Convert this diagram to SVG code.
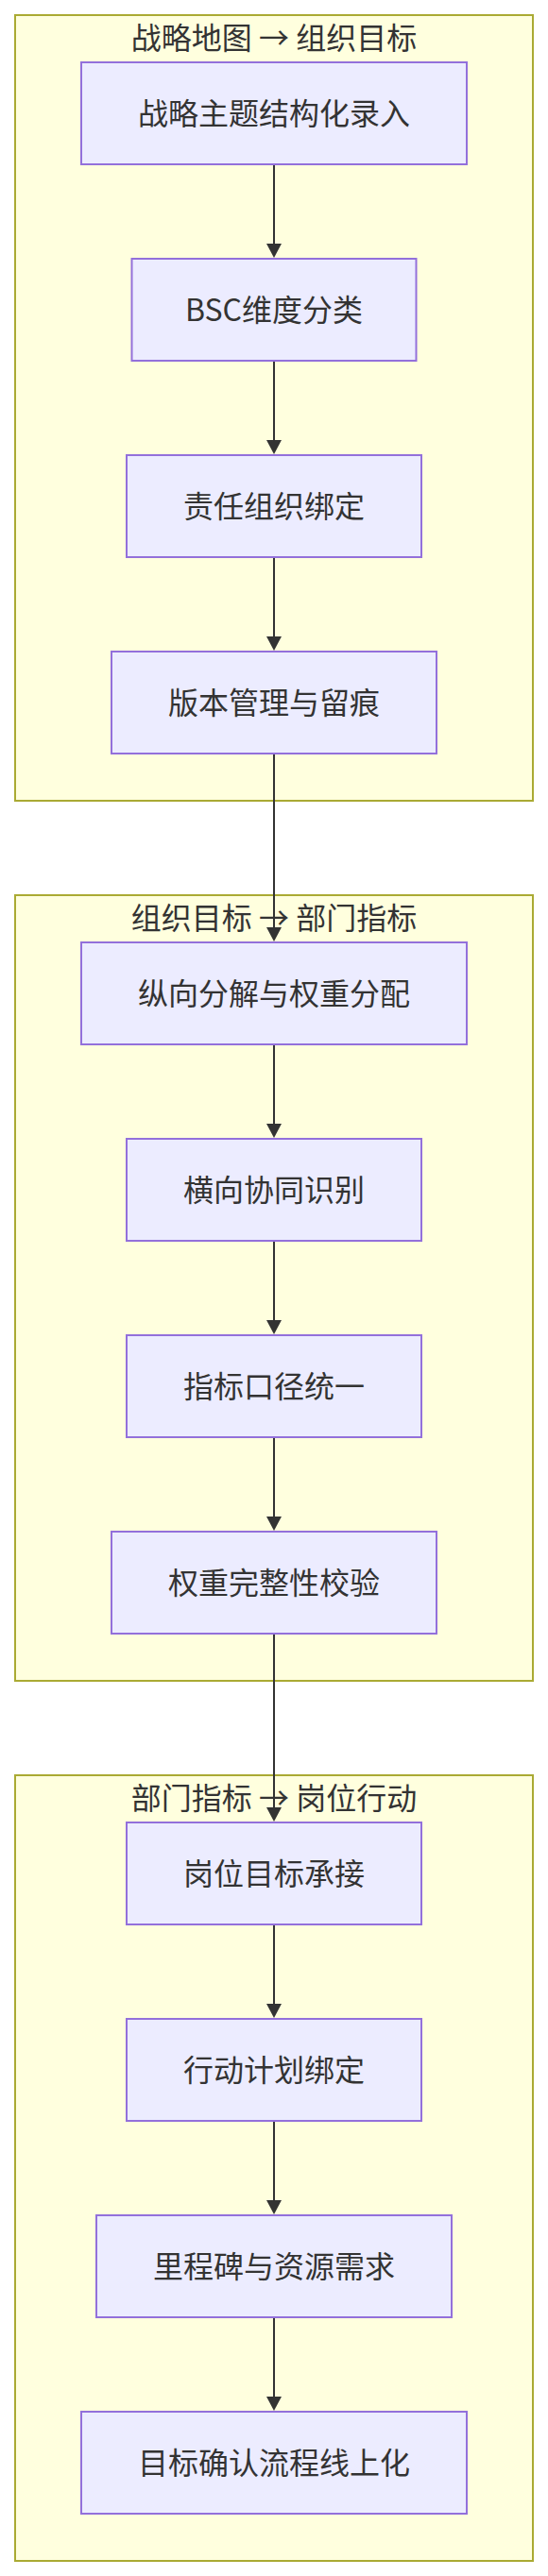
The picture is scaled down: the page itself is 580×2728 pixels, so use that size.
<svg xmlns="http://www.w3.org/2000/svg" width="580" height="2728" viewBox="0 0 580 2728">
<style>
.cluster rect{fill:#ffffde;stroke:#aaaa33;stroke-width:2}
.cluster text{font-family:"Noto Sans CJK SC","Noto Sans",sans-serif;font-size:32px;fill:#333333;text-anchor:middle}
.node rect{fill:#ececff;stroke:#9370db;stroke-width:2}
.node text{font-family:"Noto Sans CJK SC","Noto Sans",sans-serif;font-size:32px;fill:#333333;text-anchor:middle}
.edge{stroke:#333333;stroke-width:2;fill:none;marker-end:url(#arrow)}
</style>
<defs>
<marker id="arrow" viewBox="0 0 15 16" refX="13" refY="8" markerWidth="15" markerHeight="16" markerUnits="userSpaceOnUse" orient="auto">
<path d="M0,0 L15,8 L0,16 z" fill="#333333"/>
</marker>
</defs>
<g id="clusters">
<g id="cluster1" class="cluster"><rect x="16" y="16" width="548" height="832"/><text x="290" y="52">战略地图 → 组织目标</text></g>
<g id="cluster2" class="cluster"><rect x="16" y="948" width="548" height="832"/><text x="290" y="984">组织目标 → 部门指标</text></g>
<g id="cluster3" class="cluster"><rect x="16" y="1880" width="548" height="832"/><text x="290" y="1916">部门指标 → 岗位行动</text></g>
</g>
<g id="connectors">
<path class="edge" d="M290,174 L290,271"/>
<path class="edge" d="M290,382 L290,479"/>
<path class="edge" d="M290,590 L290,687"/>
<path class="edge" d="M290,798 L290,995"/>
<path class="edge" d="M290,1106 L290,1203"/>
<path class="edge" d="M290,1314 L290,1411"/>
<path class="edge" d="M290,1522 L290,1619"/>
<path class="edge" d="M290,1730 L290,1927"/>
<path class="edge" d="M290,2038 L290,2135"/>
<path class="edge" d="M290,2246 L290,2343"/>
<path class="edge" d="M290,2454 L290,2551"/>
</g>
<g id="n1" class="node"><rect x="86" y="66" width="408" height="108"/><text x="290" y="132">战略主题结构化录入</text></g>
<g id="n2" class="node"><rect x="139.5" y="274" width="301" height="108"/><text x="290" y="340">BSC维度分类</text></g>
<g id="n3" class="node"><rect x="134" y="482" width="312" height="108"/><text x="290" y="548">责任组织绑定</text></g>
<g id="n4" class="node"><rect x="118" y="690" width="344" height="108"/><text x="290" y="756">版本管理与留痕</text></g>
<g id="n5" class="node"><rect x="86" y="998" width="408" height="108"/><text x="290" y="1064">纵向分解与权重分配</text></g>
<g id="n6" class="node"><rect x="134" y="1206" width="312" height="108"/><text x="290" y="1272">横向协同识别</text></g>
<g id="n7" class="node"><rect x="134" y="1414" width="312" height="108"/><text x="290" y="1480">指标口径统一</text></g>
<g id="n8" class="node"><rect x="118" y="1622" width="344" height="108"/><text x="290" y="1688">权重完整性校验</text></g>
<g id="n9" class="node"><rect x="134" y="1930" width="312" height="108"/><text x="290" y="1996">岗位目标承接</text></g>
<g id="n10" class="node"><rect x="134" y="2138" width="312" height="108"/><text x="290" y="2204">行动计划绑定</text></g>
<g id="n11" class="node"><rect x="102" y="2346" width="376" height="108"/><text x="290" y="2412">里程碑与资源需求</text></g>
<g id="n12" class="node"><rect x="86" y="2554" width="408" height="108"/><text x="290" y="2620">目标确认流程线上化</text></g>
</svg>
